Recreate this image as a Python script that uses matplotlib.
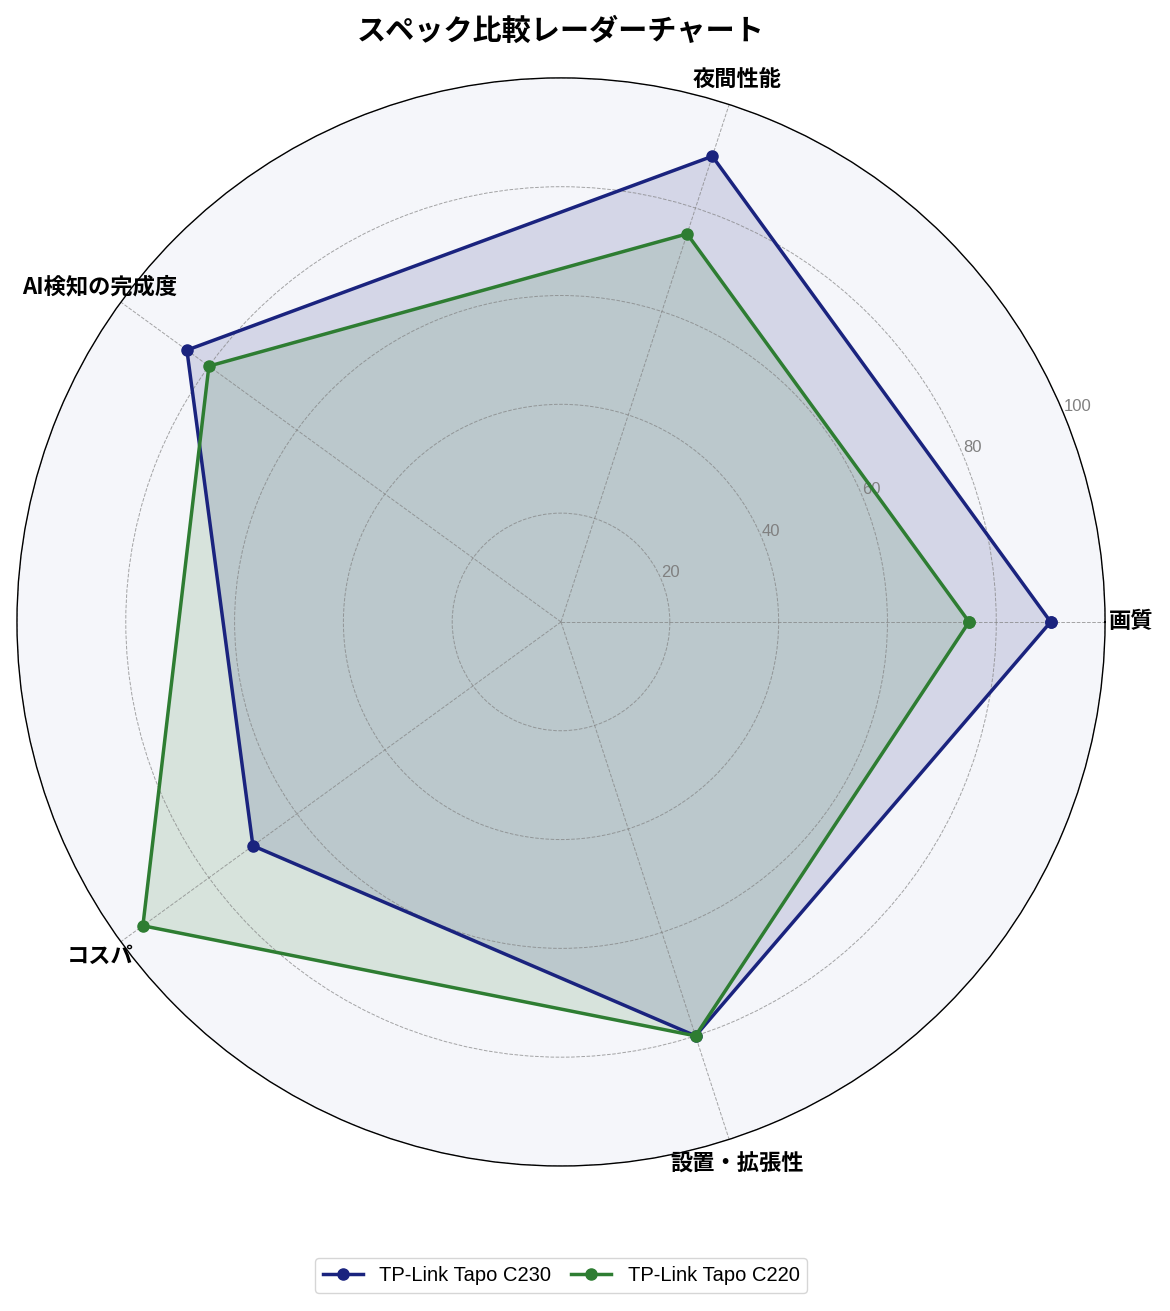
import numpy as np
import matplotlib
matplotlib.use("Agg")
import matplotlib.pyplot as plt

plt.rcParams['font.family'] = ['Noto Sans CJK JP', 'DejaVu Sans']

categories = ['画質', '夜間性能', 'AI検知の完成度', 'コスパ', '設置・拡張性']
c230_values = [90, 90, 85, 70, 80]
c220_values = [75, 75, 80, 95, 80]
series_names = ['TP-Link Tapo C230', 'TP-Link Tapo C220']
series_colors = ['#1a237e', '#2e7d32']
r_ticks = [20, 40, 60, 80, 100]

n = len(categories)
angles = np.linspace(0, 2 * np.pi, n, endpoint=False).tolist()
angles_closed = angles + angles[:1]

fig = plt.figure(figsize=(11.7, 13.11), dpi=100)
ax = fig.add_axes([0.0145, 0.1106, 0.93, 0.83], projection='polar')
ax.set_facecolor('#f5f6fa')

for vals, name, col in zip([c230_values, c220_values], series_names, series_colors):
    v = list(vals) + [vals[0]]
    ax.plot(angles_closed, v, color=col, linewidth=2.5, marker='o', markersize=8, label=name)
    ax.fill(angles_closed, v, color=col, alpha=0.15)

ax.set_ylim(0, 100)
ax.set_xticks(angles)
ax.set_xticklabels(categories, fontsize=16, fontweight='bold')
ax.tick_params(axis='x', pad=8)
ax.set_yticks(r_ticks)
ax.set_yticklabels([str(t) for t in r_ticks], fontsize=12, color='grey',
                   family=['Liberation Sans', 'DejaVu Sans'])
ax.set_rlabel_position(22.5)
ax.grid(True, linestyle='--', linewidth=0.7, color='grey', alpha=0.7)
ax.spines['polar'].set_color('black')
ax.spines['polar'].set_linewidth(1.0)

fig.suptitle('スペック比較レーダーチャート', fontsize=21, fontweight='bold',
             x=0.4795, y=0.988)
fig.legend(loc='lower center', bbox_to_anchor=(0.4795, 0.006), ncol=2,
           prop={'family': ['Liberation Sans', 'DejaVu Sans'], 'size': 14.5},
           columnspacing=1.0, frameon=True)

fig.savefig('out.png', dpi=100)
